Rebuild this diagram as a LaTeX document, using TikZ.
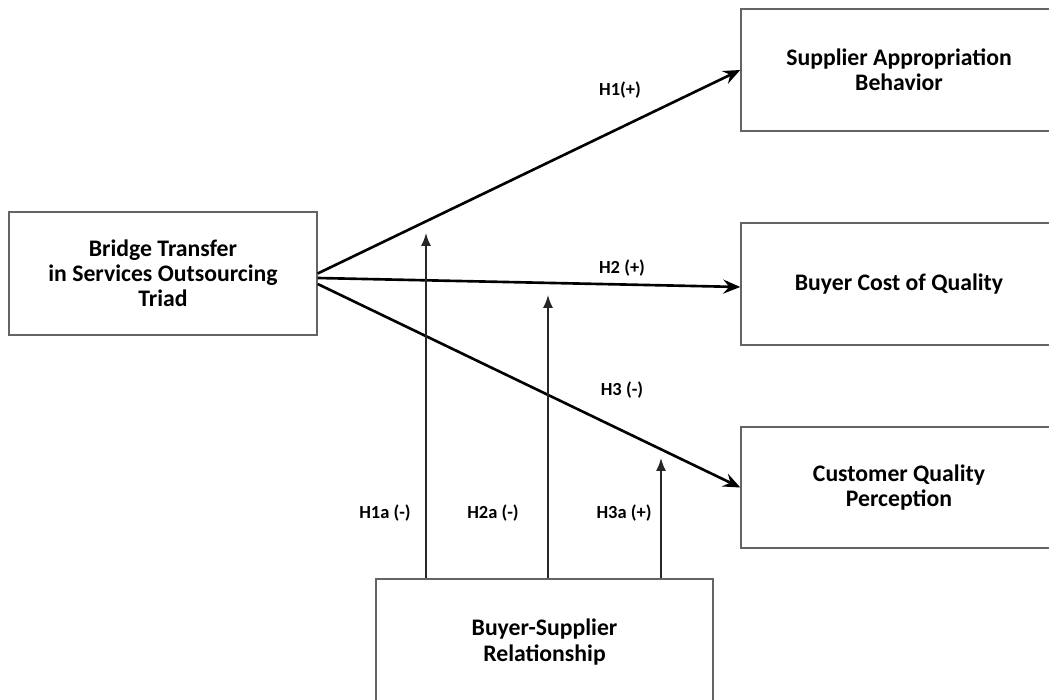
\documentclass[tikz,border=0pt]{standalone}
\usepackage{fontspec}
\setmainfont{Carlito}
\usepackage{tikz}
\usetikzlibrary{arrows.meta, positioning, calc}
\definecolor{cFrame}{RGB}{100,100,100}
\tikzset{
	construct/.style={rectangle, draw=cFrame, line width=0.8pt, align=center, text centered, font=\bfseries\fontsize{13.5}{14.3}\selectfont, inner sep=0pt},
	hyp/.style      ={-{Stealth[length=3.4mm, width=2.8mm, inset=1.2mm]}, line width=1.5pt},
	mod/.style      ={-{Latex[length=2.6mm, width=2mm]}, line width=0.9pt, black!85},
	hlabel/.style   ={font=\bfseries\fontsize{10.5}{12}\selectfont, inner sep=0pt},
}
\begin{document}
\begin{tikzpicture}[x=0.2mm, y=-0.2mm]
	\useasboundingbox (0,0) rectangle (1049,700);
	% ---- constructs ----
	\node[construct, minimum width=61.6mm, minimum height=24.6mm] (bridge) at (163,273.5) {Bridge Transfer\\in Services Outsourcing\\Triad};
	\node[construct, minimum width=63.2mm, minimum height=24.4mm] (supplier) at (899,70) {Supplier Appropriation\\Behavior};
	\node[construct, minimum width=63.2mm, minimum height=24.4mm] (cost) at (899,284) {Buyer Cost of Quality};
	\node[construct, minimum width=63.2mm, minimum height=24.2mm] (customer) at (899,487.5) {Customer Quality\\Perception};
	\node[construct, minimum width=67.4mm, minimum height=25.2mm] (relation) at (544.5,642) {Buyer-Supplier\\Relationship};
	% ---- direct effects ----
	\draw[hyp] (bridge.east) -- (supplier.west);
	\draw[hyp] ([yshift=-0.9mm]bridge.east) -- ([yshift=-0.6mm]cost.west);
	\draw[hyp] ([yshift=-2.1mm]bridge.east) -- (customer.west);
	\node[hlabel] (h1) at (620,90) {H1(+)};
	\node[hlabel] (h2) at (622,268) {H2 (+)};
	\node[hlabel] (h3) at (622,390) {H3 (-)};
	% ---- moderation ----
	\coordinate (m1) at (426,233);
	\coordinate (m2) at (548,295);
	\coordinate (m3) at (661,458);
	\draw[mod] (relation.north -| m1) -- (m1);
	\draw[mod] (relation.north -| m2) -- (m2);
	\draw[mod] (relation.north -| m3) -- (m3);
	\node[hlabel] (h1a) at (385,513) {H1a (-)};
	\node[hlabel] (h2a) at (493,513) {H2a (-)};
	\node[hlabel] (h3a) at (624,513) {H3a (+)};
\end{tikzpicture}
\end{document}
